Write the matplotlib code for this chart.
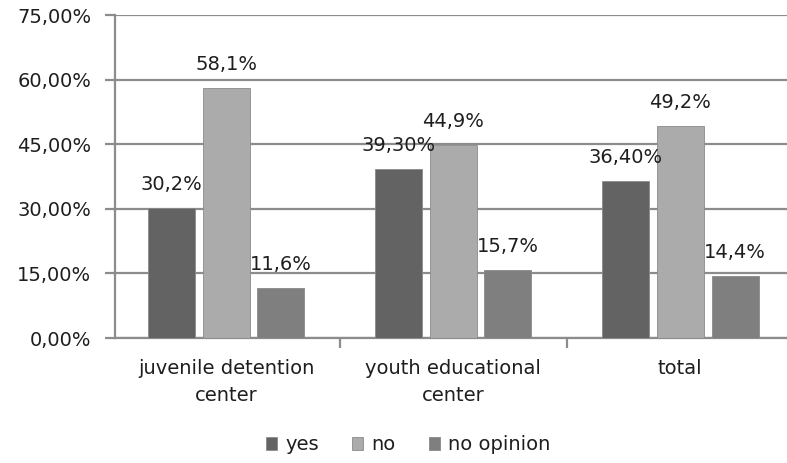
import matplotlib
matplotlib.use("Agg")
import matplotlib.pyplot as plt
import numpy as np

categories = ["juvenile detention\ncenter", "youth educational\ncenter", "total"]
series_names = ["yes", "no", "no opinion"]
yes_vals = [30.2, 39.30, 36.40]
no_vals = [58.1, 44.9, 49.2]
noop_vals = [11.6, 15.7, 14.4]
yes_labels = ["30,2%", "39,30%", "36,40%"]
no_labels = ["58,1%", "44,9%", "49,2%"]
noop_labels = ["11,6%", "15,7%", "14,4%"]
yticks = [0, 15, 30, 45, 60, 75]
ytick_labels = ["0,00%", "15,00%", "30,00%", "45,00%", "60,00%", "75,00%"]

colors = ["#636363", "#ababab", "#7f7f7f"]

plt.rcParams['font.family'] = ['DejaVu Sans']
FS = 14
TXT = "#1e1e1e"

W, H = 787, 463
fig = plt.figure(figsize=(W / 100, H / 100), dpi=100)
ax = fig.add_axes([115 / W, (H - 338) / H, (787 - 115) / W, (338 - 15) / H])

x = np.arange(len(categories))
bw = 0.207
step = 0.242
series = [yes_vals, no_vals, noop_vals]
labels = [yes_labels, no_labels, noop_labels]
for i, (vals, labs) in enumerate(zip(series, labels)):
    xs = x + (i - 1) * step
    bars = ax.bar(xs, vals, width=bw, color=colors[i], edgecolor="#8a8a8a",
                  linewidth=0.6, label=series_names[i], zorder=3)
    for b, lab in zip(bars, labs):
        ax.annotate(lab, (b.get_x() + b.get_width() / 2, b.get_height()),
                    xytext=(0, 17), textcoords="offset points",
                    ha="center", va="center", fontsize=FS, color=TXT,
                    zorder=4)

ax.set_xlim(-0.489, 2.471)
ax.set_ylim(0, 75)
ax.set_yticks(yticks)
ax.set_yticklabels(ytick_labels, fontsize=FS, color=TXT)
ax.yaxis.grid(True, color="#8c8c8c", linewidth=1.6, zorder=0)
ax.set_axisbelow(True)

ax.set_xticks(x)
ax.set_xticklabels(categories, fontsize=FS, color=TXT, linespacing=1.55)
ax.tick_params(axis="x", length=0, pad=15)
ax.set_xticks([0.5, 1.5], minor=True)
ax.tick_params(axis="x", which="minor", length=7, width=1.6, color="#8c8c8c")
ax.tick_params(axis="y", length=7, width=1.6, color="#8c8c8c", pad=10)

for s in ["top", "right"]:
    ax.spines[s].set_visible(False)
ax.spines["left"].set_color("#8c8c8c")
ax.spines["left"].set_linewidth(1.6)
ax.spines["bottom"].set_color("#8c8c8c")
ax.spines["bottom"].set_linewidth(1.6)

leg = fig.legend(loc="center", bbox_to_anchor=(408 / W, 1 - 445 / H), ncol=3,
                 frameon=False, fontsize=FS, handlelength=0.6, handleheight=0.6,
                 handletextpad=0.4, columnspacing=1.7)
for t in leg.get_texts():
    t.set_color(TXT)

fig.savefig("out.png", dpi=100)
